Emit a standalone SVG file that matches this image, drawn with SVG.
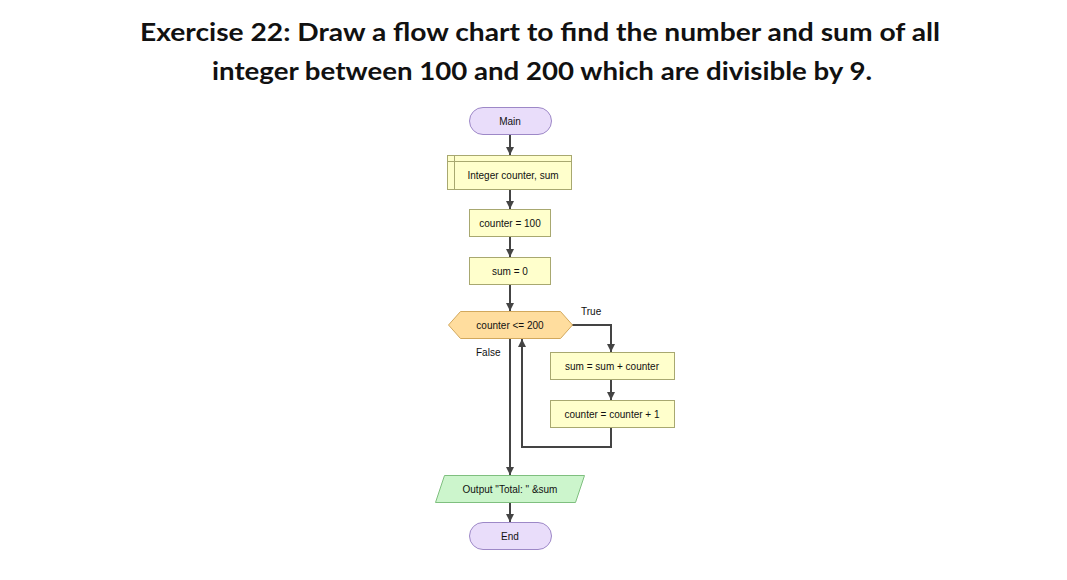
<svg xmlns="http://www.w3.org/2000/svg" width="1067" height="580" viewBox="0 0 1067 580">
<style>
.t{font-family:"Liberation Sans",Arial,sans-serif;font-size:10px;fill:#111;text-anchor:middle;dominant-baseline:central}
.h{font-family:Lato,"Liberation Sans",sans-serif;font-weight:bold;font-size:25px;fill:#111;text-anchor:middle}
.term{fill:#e9ddfa;stroke:#9d88c7;stroke-width:1}
.proc{fill:#ffffcc;stroke:#a8a870;stroke-width:1}
.dec{fill:#ffdd9e;stroke:#d2a85c;stroke-width:1}
.io{fill:#ccf5cc;stroke:#7fbf7f;stroke-width:1}
.c{fill:none;stroke:#444;stroke-width:2}
.lbl{font-family:"Liberation Sans",Arial,sans-serif;font-size:10px;fill:#111}
</style>
<defs>
<marker id="a" viewBox="0 0 10 10" refX="10" refY="5" markerWidth="4" markerHeight="4" orient="auto" markerUnits="strokeWidth">
<path d="M0,0 L10,5 L0,10 z" fill="#444"/>
</marker>
</defs>
<rect width="1067" height="580" fill="#fff"/>
<g id="title">
<text class="h" x="540" y="41" textLength="800" lengthAdjust="spacingAndGlyphs">Exercise 22: Draw a flow chart to find the number and sum of all</text>
<text class="h" x="542" y="80" textLength="660" lengthAdjust="spacingAndGlyphs">integer between 100 and 200 which are divisible by 9.</text>
</g>
<g id="connectors">
<line class="c" x1="510" y1="134" x2="510" y2="155" marker-end="url(#a)"/>
<line class="c" x1="510" y1="189" x2="510" y2="209" marker-end="url(#a)"/>
<line class="c" x1="510" y1="236" x2="510" y2="257" marker-end="url(#a)"/>
<line class="c" x1="510" y1="284" x2="510" y2="311" marker-end="url(#a)"/>
<polyline class="c" points="572,325 611,325 611,352" marker-end="url(#a)"/>
<line class="c" x1="611" y1="379" x2="611" y2="400" marker-end="url(#a)"/>
<polyline class="c" points="611,427 611,447 522,447 522,339" marker-end="url(#a)"/>
<line class="c" x1="510" y1="339" x2="510" y2="475" marker-end="url(#a)"/>
<line class="c" x1="510" y1="502" x2="510" y2="522" marker-end="url(#a)"/>
<text class="lbl" x="581" y="315">True</text>
<text class="lbl" x="476" y="356">False</text>
</g>
<g id="main">
<rect class="term" x="469.5" y="107.5" width="82" height="27" rx="13.5"/>
<text class="t" x="510" y="121">Main</text>
</g>
<g id="declare">
<rect class="proc" x="447.5" y="155.5" width="124" height="34"/>
<line x1="447.5" y1="161.5" x2="571.5" y2="161.5" stroke="#a8a870"/>
<line x1="454.5" y1="155.5" x2="454.5" y2="189.5" stroke="#a8a870"/>
<text class="t" x="513" y="175">Integer counter, sum</text>
</g>
<g id="assign1">
<rect class="proc" x="469.5" y="209.5" width="81" height="27"/>
<text class="t" x="510" y="223">counter = 100</text>
</g>
<g id="assign2">
<rect class="proc" x="469.5" y="257.5" width="81" height="27"/>
<text class="t" x="510" y="271">sum = 0</text>
</g>
<g id="decision">
<polygon class="dec" points="448.5,325 460.5,311.5 560.5,311.5 572.5,325 560.5,338.5 460.5,338.5"/>
<text class="t" x="510" y="325">counter &lt;= 200</text>
</g>
<g id="assign3">
<rect class="proc" x="550.5" y="352.5" width="124" height="27"/>
<text class="t" x="612" y="366">sum = sum + counter</text>
</g>
<g id="assign4">
<rect class="proc" x="550.5" y="400.5" width="124" height="27"/>
<text class="t" x="612" y="414">counter = counter + 1</text>
</g>
<g id="output">
<polygon class="io" points="444.5,475.5 584.5,475.5 575.5,502.5 435.5,502.5"/>
<text class="t" x="510" y="489">Output "Total: " &amp;sum</text>
</g>
<g id="end">
<rect class="term" x="469.5" y="522.5" width="82" height="27" rx="13.5"/>
<text class="t" x="510" y="536">End</text>
</g>
</svg>
